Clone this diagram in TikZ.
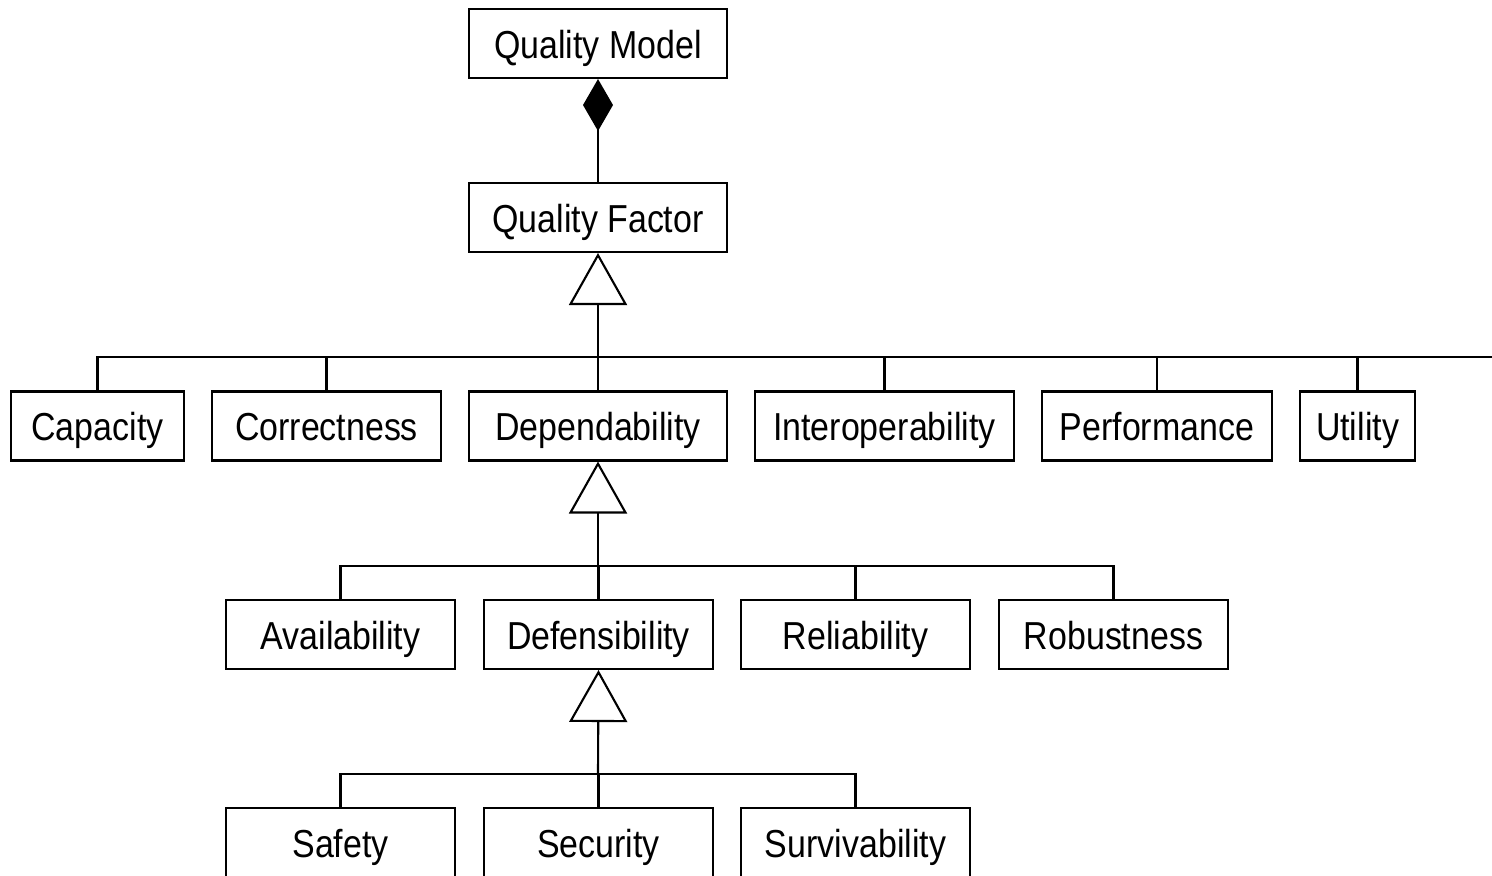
\documentclass[tikz,border=0pt]{standalone}
\usepackage{fontspec}
\setmainfont{Liberation Sans}[FakeStretch=0.87]
\usetikzlibrary{arrows.meta}
\begin{document}
\begin{tikzpicture}[line width=0.6pt,
  cls/.style={draw, minimum height=0.69cm, inner sep=0pt, text height=0.33cm, text depth=0.03cm,
    font=\fontsize{11.1}{13}\selectfont},
  agg/.style={{Diamond[length=0.52cm, width=0.30cm]}-},
  gen/.style={-{Triangle[open, length=0.52cm, width=0.58cm, fill=white]}}]
\useasboundingbox (0,0) rectangle (14.92,8.76);
% top
\node[cls, minimum width=2.58cm] (qm) at (5.98,8.325) {Quality Model};
\node[cls, minimum width=2.58cm] (qf) at (5.98,6.585) {Quality Factor};
\draw[agg] (qm.south) -- (qf.north);
% factors
\node[cls, minimum width=1.73cm] (cap) at (0.975,4.50) {Capacity};
\node[cls, minimum width=2.29cm] (cor) at (3.265,4.50) {Correctness};
\node[cls, minimum width=2.58cm] (dep) at (5.98,4.50) {Dependability};
\node[cls, minimum width=2.59cm] (int) at (8.845,4.50) {Interoperability};
\node[cls, minimum width=2.30cm] (perf) at (11.57,4.50) {Performance};
\node[cls, minimum width=1.15cm] (util) at (13.575,4.50) {Utility};
\coordinate (busA) at (5.98,5.19);
\coordinate (busAend) at (14.92,5.19);
\draw[gen] (busA) -- (qf.south);
\draw (cap.north) |- (busAend);
\foreach \n in {cor,dep,int,perf,util}
  \draw (\n.north) -- (\n.north |- busA);
% dependability
\node[cls, minimum width=2.29cm] (avail) at (3.405,2.415) {Availability};
\node[cls, minimum width=2.29cm] (def) at (5.985,2.415) {Defensibility};
\node[cls, minimum width=2.29cm] (rel) at (8.555,2.415) {Reliability};
\node[cls, minimum width=2.29cm] (rob) at (11.135,2.415) {Robustness};
\coordinate (busB) at (5.98,3.10);
\draw[gen] (busB) -- (dep.south);
\draw (avail.north) |- (rob.north |- busB) -- (rob.north);
\foreach \n in {def,rel}
  \draw (\n.north) -- (\n.north |- busB);
% defensibility
\node[cls, minimum width=2.29cm] (safe) at (3.405,0.335) {Safety};
\node[cls, minimum width=2.29cm] (sec) at (5.985,0.335) {Security};
\node[cls, minimum width=2.29cm] (surv) at (8.555,0.335) {Survivability};
\coordinate (busC) at (5.98,1.02);
\draw[gen] (busC) -- (def.south);
\draw (safe.north) |- (surv.north |- busC) -- (surv.north);
\draw (sec.north) -- (sec.north |- busC);
\end{tikzpicture}
\end{document}
